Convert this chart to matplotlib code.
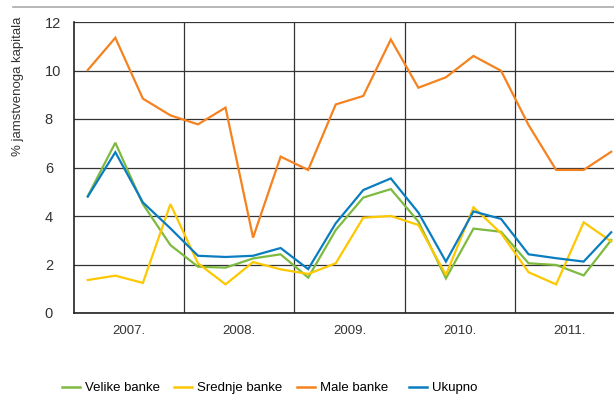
import matplotlib
matplotlib.use('Agg')
import matplotlib.pyplot as plt
from matplotlib.lines import Line2D
from matplotlib import font_manager

# quarterly values, 2007 Q1 .. 2011 Q4
years = ['2007.', '2008.', '2009.', '2010.', '2011.']
velike = [4.82, 7.02, 4.49, 2.80, 1.91, 1.87, 2.25, 2.42, 1.46, 3.42,
          4.76, 5.11, 3.77, 1.43, 3.48, 3.35, 2.05, 1.98, 1.55, 3.01]
srednje = [1.36, 1.54, 1.24, 4.49, 2.05, 1.18, 2.10, 1.80, 1.61, 2.05,
           3.93, 4.00, 3.63, 1.57, 4.36, 3.29, 1.68, 1.18, 3.74, 2.95]
male = [10.02, 11.35, 8.84, 8.15, 7.78, 8.47, 3.11, 6.45, 5.90, 8.60,
        8.95, 11.28, 9.29, 9.72, 10.60, 9.99, 7.75, 5.90, 5.90, 6.65]
ukupno = [4.80, 6.63, 4.56, 3.49, 2.36, 2.31, 2.36, 2.68, 1.81, 3.70,
          5.07, 5.55, 4.14, 2.12, 4.19, 3.88, 2.42, 2.26, 2.12, 3.33]
labels = ['Velike banke', 'Srednje banke', 'Male banke', 'Ukupno']
colors = ['#7dba3f', '#fdc800', '#f5821f', '#0a7dc0']

names = {f.name for f in font_manager.fontManager.ttflist}
fam = 'Liberation Sans Narrow' if 'Liberation Sans Narrow' in names else 'Liberation Sans'
plt.rcParams['font.family'] = [fam, 'DejaVu Sans']
plt.rcParams['font.size'] = 9.5

fig = plt.figure(figsize=(6.14, 3.94), dpi=100)
W, H = 614, 394
ax = fig.add_axes([74 / W, 1 - 313 / H, (625 - 74) / W, (313 - 22) / H])

x = list(range(len(male)))
for vals, c in zip([velike, srednje, male, ukupno], colors):
    ax.plot(x, vals, color=c, lw=1.6, solid_joinstyle='miter')

ax.set_xlim(-0.5, 19.5)
ax.set_ylim(0, 12)
ax.set_yticks(range(0, 13, 2))
ax.set_xticks([3.5, 7.5, 11.5, 15.5])
ax.set_xticklabels([])
ax.grid(True, color='#333333', lw=0.9)
ax.set_axisbelow(True)
ax.tick_params(length=0)
ax.tick_params(axis='y', pad=21, labelcolor='#333333', labelsize=10.5)
for lbl in ax.get_yticklabels():
    lbl.set_ha('left')
for s in ['top', 'right']:
    ax.spines[s].set_visible(False)
for s in ['left', 'bottom']:
    ax.spines[s].set_color('#222222')
    ax.spines[s].set_linewidth(1.2)

for i, yr in enumerate(years):
    ax.text(4 * i + 1.5, -0.75, yr, ha='center', va='center', color='#333333')

fig.text(18 / W, 1 - 86 / H, '% jamstvenoga kapitala', rotation=90,
         ha='center', va='center', color='#333333')
fig.add_artist(Line2D([13 / W, 1], [1 - 6.5 / H] * 2, color='#aaaaaa', lw=1.2))

# one legend entry per item, placed where the reference has them
legend_x = [62, 174, 297, 409]
for lx, lab, c in zip(legend_x, labels, colors):
    fig.legend([Line2D([], [], color=c, lw=1.8)], [lab], loc='center left',
               bbox_to_anchor=(lx / W, 1 - 388 / H), frameon=False,
               handlelength=1.35, handletextpad=0.4, borderaxespad=0, borderpad=0)

fig.savefig('out.png', dpi=100)
